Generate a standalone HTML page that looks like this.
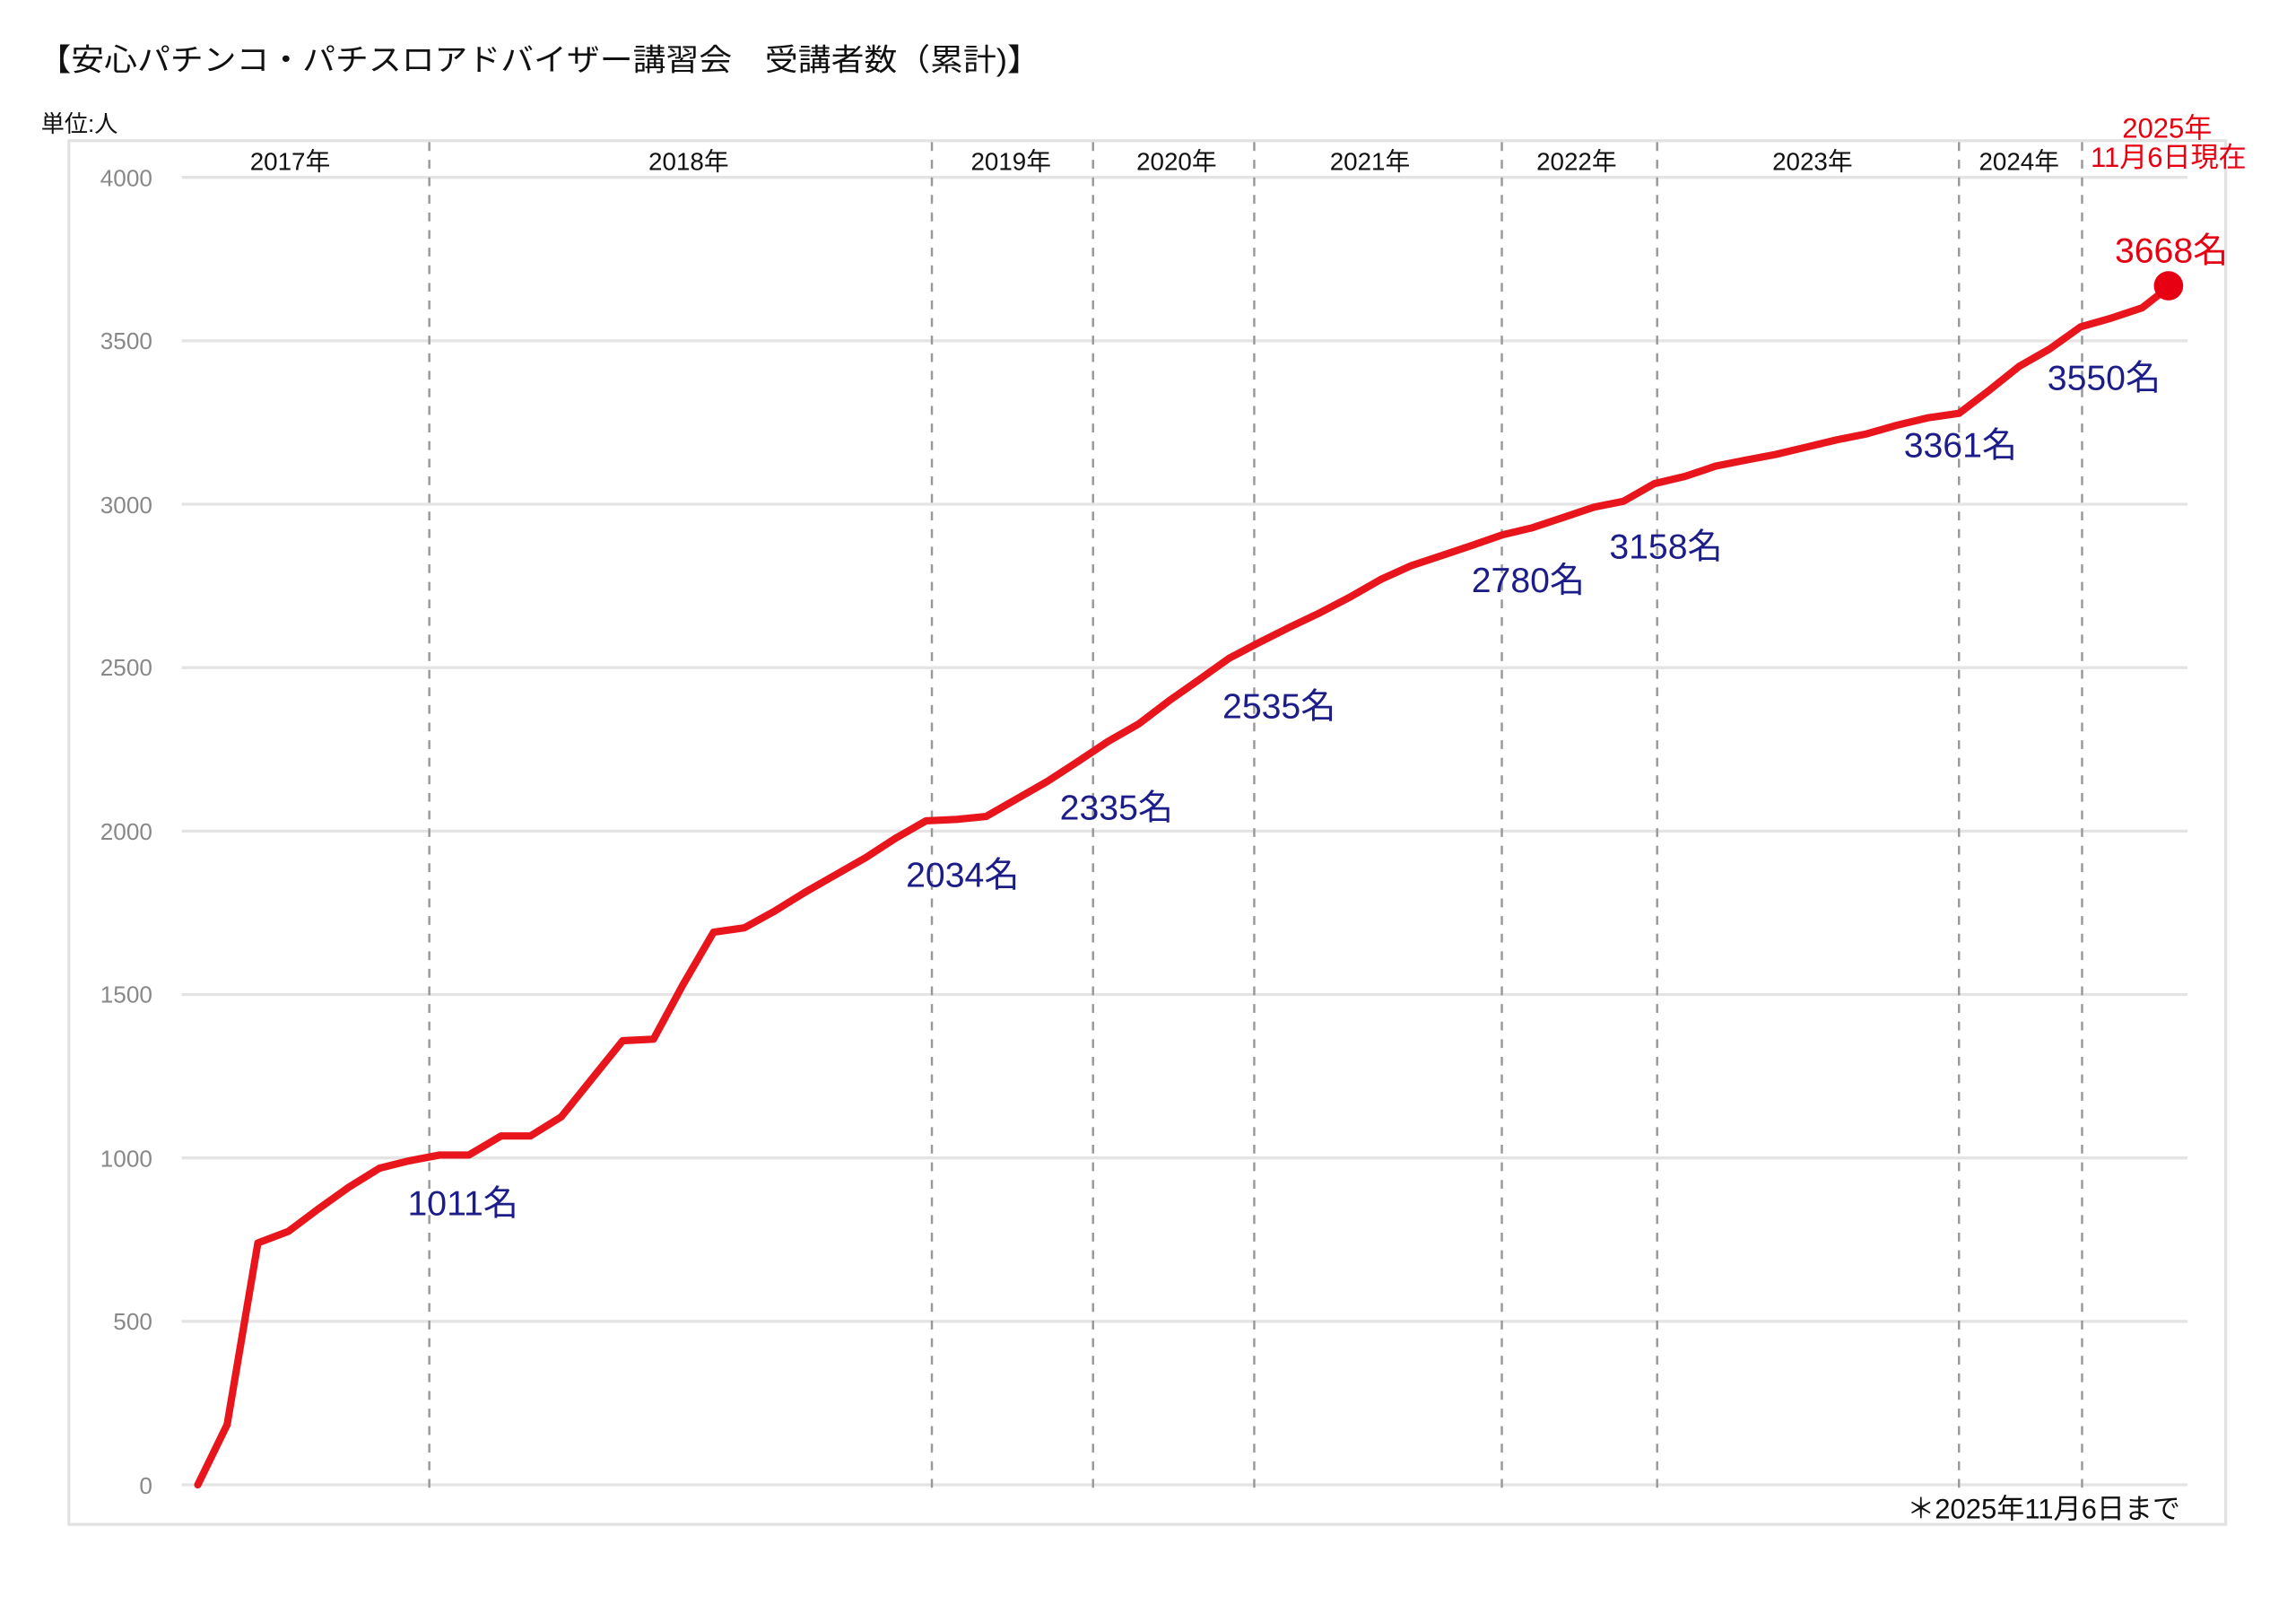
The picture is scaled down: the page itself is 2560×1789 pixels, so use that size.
<!DOCTYPE html>
<html><head><meta charset="utf-8"><style>html,body{margin:0;padding:0;background:#fff}svg{display:block}</style></head>
<body>
<svg width="2560" height="1789" viewBox="0 0 1567 1095" preserveAspectRatio="none" xmlns="http://www.w3.org/2000/svg" font-family="'Liberation Sans','Noto Sans CJK JP',sans-serif">
<text x="26" y="48" font-size="21" fill="#111" textLength="684" lengthAdjust="spacingAndGlyphs">【安心パチンコ・パチスロアドバイザー講習会　受講者数（累計)】</text>
<text x="28" y="90" font-size="16" fill="#111">単位:人</text>
<rect x="47" y="96" width="1472" height="944" fill="none" stroke="#e2e2e2" stroke-width="2"/>
<g stroke="#e4e4e4" stroke-width="2">
<line x1="124" x2="1493" y1="121" y2="121"/><line x1="124" x2="1493" y1="232.5" y2="232.5"/><line x1="124" x2="1493" y1="344" y2="344"/><line x1="124" x2="1493" y1="455.5" y2="455.5"/><line x1="124" x2="1493" y1="567" y2="567"/><line x1="124" x2="1493" y1="678.5" y2="678.5"/><line x1="124" x2="1493" y1="790" y2="790"/><line x1="124" x2="1493" y1="901.5" y2="901.5"/><line x1="124" x2="1493" y1="1013" y2="1013"/>
</g>
<g fill="#888" font-size="16" text-anchor="end">
<text x="104" y="127">4000</text><text x="104" y="238">3500</text><text x="104" y="350">3000</text><text x="104" y="461">2500</text><text x="104" y="573">2000</text><text x="104" y="684">1500</text><text x="104" y="796">1000</text><text x="104" y="907">500</text><text x="104" y="1019">0</text>
</g>
<g stroke="#999" stroke-width="1.5" stroke-dasharray="6,6">
<line x1="293" x2="293" y1="97" y2="1015"/><line x1="636" x2="636" y1="97" y2="1015"/><line x1="746" x2="746" y1="97" y2="1015"/><line x1="856" x2="856" y1="97" y2="1015"/><line x1="1025" x2="1025" y1="97" y2="1015"/><line x1="1131" x2="1131" y1="97" y2="1015"/><line x1="1337" x2="1337" y1="97" y2="1015"/><line x1="1421" x2="1421" y1="97" y2="1015"/>
</g>
<g fill="#111" font-size="17" text-anchor="middle">
<text x="198" y="116">2017年</text><text x="470" y="116">2018年</text><text x="690" y="116">2019年</text><text x="803" y="116">2020年</text><text x="935" y="116">2021年</text><text x="1076" y="116">2022年</text><text x="1237" y="116">2023年</text><text x="1378" y="116">2024年</text>
</g>
<g fill="#e60012" font-size="19" text-anchor="middle">
<text x="1479" y="94">2025年</text><text x="1480" y="114">11月6日現在</text>
</g>
<polyline fill="none" stroke="#e8161c" stroke-width="5" stroke-linejoin="round" stroke-linecap="round" points="135,1013 155,972 176,848 197,840 217,825 238,810 259,797 279,792 300,788 320,788 342,775 362,775 383,762 404,736 425,710 446,709 466,672 487,636 508,633 528,622 549,609 570,597 591,585 611,572 632,560 653,559 673,557 694,545 715,533 735,520 756,506 777,494 798,478 818,464 839,449 860,438 880,428 901,418 922,407 943,395 963,386 984,379 1005,372 1025,365 1046,360 1067,353 1088,346 1108,342 1129,330 1150,325 1171,318 1191,314 1212,310 1233,305 1254,300 1274,296 1295,290 1316,285 1337,282 1358,266 1378,250 1399,238 1420,223 1441,217 1462,210 1480,196"/>
<circle cx="1480" cy="195" r="10" fill="#e60012"/>
<g fill="#1d1d8a" font-size="24" text-anchor="middle">
<text x="316" y="829">1011名</text><text x="657" y="605">2034名</text><text x="762" y="559">2335名</text><text x="873" y="490">2535名</text><text x="1043" y="404">2780名</text><text x="1137" y="381">3158名</text><text x="1338" y="312">3361名</text><text x="1436" y="266">3550名</text>
</g>
<text x="1482" y="179" fill="#e60012" font-size="24" text-anchor="middle">3668名</text>
<text x="1488" y="1036" fill="#111" font-size="19" text-anchor="end">＊2025年11月6日まで</text>
</svg>
</body></html>
